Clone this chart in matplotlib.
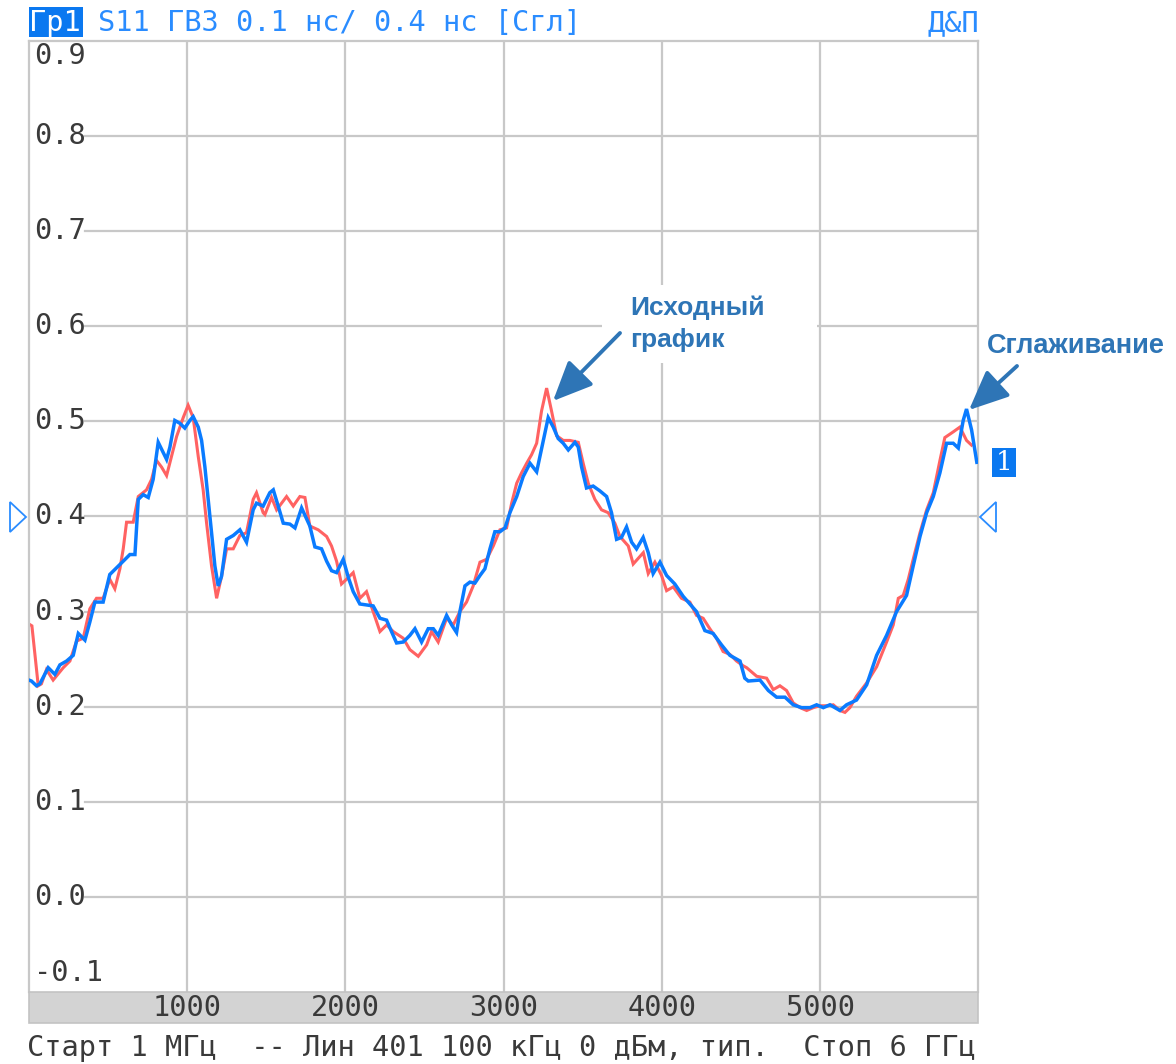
import matplotlib
matplotlib.use('Agg')
import matplotlib.pyplot as plt
import matplotlib.transforms as mtrans
from matplotlib.patches import Rectangle, Polygon, FancyArrowPatch

# ---------------- data ----------------
freq_orig = [1, 20, 60, 80, 112, 154, 218, 260, 302, 344, 386, 428, 470, 512, 544, 576, 597, 618,
             660, 692, 744, 776, 807, 839, 871, 902, 934, 976, 1007, 1039, 1071, 1102, 1123, 1155,
             1187, 1218, 1250, 1292, 1334, 1376, 1418, 1439, 1481, 1492, 1534, 1566, 1629, 1671,
             1713, 1745, 1776, 1829, 1882, 1913, 1945, 1976, 2008, 2050, 2092, 2134, 2176, 2219,
             2261, 2303, 2366, 2408, 2461, 2514, 2545, 2587, 2640, 2682, 2724, 2766, 2808, 2851,
             2893, 2935, 2977, 3019, 3051, 3083, 3114, 3146, 3177, 3209, 3240, 3272, 3303, 3335,
             3377, 3419, 3472, 3503, 3535, 3577, 3619, 3661, 3703, 3735, 3788, 3819, 3862, 3883,
             3914, 3956, 3998, 4030, 4072, 4124, 4177, 4219, 4261, 4303, 4345, 4387, 4430, 4472,
             4514, 4536, 4599, 4662, 4704, 4746, 4788, 4830, 4873, 4915, 4957, 4999, 5041, 5083,
             5125, 5157, 5188, 5230, 5294, 5357, 5420, 5462, 5494, 5525, 5557, 5588, 5631, 5673,
             5715, 5757, 5788, 5841, 5883, 5925, 5957]
s11_orig = [0.287, 0.285, 0.222, 0.224, 0.239, 0.228, 0.241, 0.248, 0.269, 0.272, 0.303, 0.314,
            0.314, 0.334, 0.324, 0.345, 0.366, 0.394, 0.394, 0.421, 0.428, 0.439, 0.459, 0.452,
            0.443, 0.463, 0.484, 0.504, 0.517, 0.504, 0.463, 0.428, 0.394, 0.348, 0.314, 0.337,
            0.366, 0.366, 0.380, 0.383, 0.418, 0.425, 0.404, 0.402, 0.420, 0.407, 0.421, 0.411,
            0.421, 0.420, 0.390, 0.386, 0.379, 0.369, 0.353, 0.329, 0.334, 0.341, 0.314, 0.321,
            0.300, 0.279, 0.286, 0.279, 0.272, 0.260, 0.253, 0.265, 0.279, 0.268, 0.293, 0.286,
            0.300, 0.310, 0.327, 0.352, 0.355, 0.369, 0.386, 0.388, 0.414, 0.435, 0.446, 0.456,
            0.465, 0.477, 0.511, 0.535, 0.511, 0.485, 0.480, 0.480, 0.478, 0.456, 0.435, 0.418,
            0.407, 0.404, 0.393, 0.379, 0.369, 0.350, 0.358, 0.362, 0.340, 0.352, 0.338, 0.322,
            0.326, 0.314, 0.310, 0.296, 0.293, 0.282, 0.272, 0.258, 0.255, 0.248, 0.243, 0.241,
            0.232, 0.230, 0.218, 0.222, 0.217, 0.204, 0.199, 0.196, 0.199, 0.201, 0.201, 0.202,
            0.196, 0.194, 0.199, 0.211, 0.225, 0.242, 0.268, 0.286, 0.314, 0.317, 0.334, 0.355,
            0.383, 0.407, 0.425, 0.459, 0.483, 0.489, 0.494, 0.480, 0.475]

freq_smooth = [1, 17, 49, 70, 123, 165, 197, 239, 281, 313, 355, 386, 418, 470, 512, 555, 597, 639,
               671, 692, 723, 755, 786, 818, 850, 871, 892, 923, 955, 986, 1018, 1039, 1071, 1092,
               1113, 1134, 1155, 1176, 1197, 1218, 1250, 1292, 1334, 1376, 1418, 1439, 1481, 1523,
               1545, 1576, 1608, 1650, 1682, 1724, 1776, 1808, 1850, 1882, 1913, 1945, 1987, 2019,
               2050, 2092, 2176, 2219, 2261, 2292, 2324, 2366, 2408, 2440, 2482, 2524, 2556, 2587,
               2640, 2672, 2703, 2724, 2756, 2787, 2819, 2851, 2882, 2914, 2945, 2977, 3009, 3040,
               3083, 3124, 3167, 3209, 3251, 3282, 3314, 3345, 3377, 3409, 3451, 3472, 3493, 3524,
               3566, 3608, 3651, 3682, 3714, 3745, 3777, 3809, 3840, 3882, 3914, 3945, 3988, 4030,
               4082, 4135, 4187, 4219, 4272, 4324, 4377, 4430, 4472, 4494, 4524, 4546, 4620, 4673,
               4725, 4778, 4830, 4883, 4936, 4978, 5020, 5062, 5125, 5167, 5230, 5294, 5357, 5420,
               5483, 5546, 5588, 5631, 5673, 5715, 5757, 5799, 5841, 5873, 5904, 5925, 5957, 5990]
s11_smooth = [0.228, 0.227, 0.222, 0.224, 0.241, 0.234, 0.244, 0.248, 0.254, 0.277, 0.270, 0.289,
              0.310, 0.310, 0.339, 0.346, 0.353, 0.360, 0.360, 0.418, 0.423, 0.420, 0.439, 0.478,
              0.467, 0.460, 0.473, 0.501, 0.498, 0.493, 0.501, 0.505, 0.494, 0.480, 0.452, 0.418,
              0.383, 0.348, 0.327, 0.337, 0.376, 0.380, 0.386, 0.373, 0.407, 0.414, 0.411, 0.425,
              0.428, 0.411, 0.393, 0.392, 0.388, 0.409, 0.390, 0.368, 0.366, 0.353, 0.343, 0.341,
              0.355, 0.336, 0.321, 0.308, 0.306, 0.293, 0.291, 0.279, 0.267, 0.268, 0.275, 0.282,
              0.268, 0.282, 0.282, 0.275, 0.296, 0.286, 0.278, 0.300, 0.327, 0.331, 0.330, 0.338,
              0.345, 0.366, 0.384, 0.384, 0.388, 0.404, 0.421, 0.442, 0.456, 0.447, 0.480, 0.504,
              0.494, 0.482, 0.477, 0.470, 0.478, 0.473, 0.452, 0.430, 0.432, 0.427, 0.421, 0.404,
              0.376, 0.378, 0.389, 0.373, 0.366, 0.378, 0.362, 0.340, 0.352, 0.338, 0.329, 0.316,
              0.306, 0.300, 0.280, 0.277, 0.265, 0.254, 0.250, 0.248, 0.230, 0.227, 0.228, 0.217,
              0.210, 0.210, 0.202, 0.199, 0.199, 0.202, 0.199, 0.202, 0.196, 0.202, 0.207, 0.223,
              0.254, 0.275, 0.300, 0.317, 0.348, 0.379, 0.404, 0.421, 0.446, 0.477, 0.477, 0.472,
              0.501, 0.513, 0.491, 0.457]

x_ticks = [1000, 2000, 3000, 4000, 5000]
x_labels = ['1000', '2000', '3000', '4000', '5000']
y_ticks = [-0.1, 0.0, 0.1, 0.2, 0.3, 0.4, 0.5, 0.6, 0.7, 0.8, 0.9]
y_labels = ['-0.1', '0.0', '0.1', '0.2', '0.3', '0.4', '0.5', '0.6', '0.7', '0.8', '0.9']
x_range = [1, 6000]

header_tag = 'Гр1'
header_text = 'S11 ГВЗ 0.1 нс/ 0.4 нс [Сгл]'
header_right = 'Д&П'
footer_text = 'Старт 1 МГц  -- Лин 401 100 кГц 0 дБм, тип.  Стоп 6 ГГц'
note_orig = 'Исходный\nграфик'
note_smooth = 'Сглаживание'
trace_id = '1'

# ---------------- style ----------------
W, H = 1176, 1064
L, R, T, B = 28.9, 978.4, 41, 992
MONO = 'DejaVu Sans Mono'
FS = 20.6
GRID = '#c8c8c8'
TXT = '#3a3a3a'
HBLUE = '#2a8cff'
MBLUE = '#0a78f0'
RED = '#ff6262'
BLUE = '#0a7bff'
ANN = '#2e75b6'


def fx(x):
    return x / W


def fy(y):
    return 1 - y / H


fig = plt.figure(figsize=(W / 100, H / 100), dpi=100)
fig.patch.set_facecolor('white')
ax = fig.add_axes([fx(L), fy(B), (R - L) / W, (B - T) / H])
ax.set_xlim(*x_range)
ax.set_ylim(y_ticks[0], y_ticks[-1])
ax.set_xticks([])
ax.set_yticks([])
for s in ['top', 'left', 'right']:
    ax.spines[s].set_color(GRID)
    ax.spines[s].set_linewidth(1.6)
ax.spines['bottom'].set_visible(False)

# grid
ax.vlines(x_ticks, y_ticks[0], y_ticks[-1], color=GRID, lw=1.6, zorder=0.5)
xmin_frac = (85 - L) / (R - L)
for yv in y_ticks[1:-1]:
    ax.axhline(yv, xmin=xmin_frac, xmax=1, color=GRID, lw=1.6, zorder=0.5)

# y labels
for yv, lab in zip(y_ticks, y_labels):
    off = 0
    if yv == y_ticks[-1]:
        off = -11
    elif yv == y_ticks[0]:
        off = 14
    tr = ax.get_yaxis_transform() + mtrans.ScaledTranslation(0, off / 72, fig.dpi_scale_trans)
    ax.text(0.005, yv, lab, transform=tr, ha='left', va='center', fontsize=FS,
            family=MONO, color=TXT, zorder=3)

# curves
ax.plot(freq_orig, s11_orig, color=RED, lw=2.2, zorder=2, solid_joinstyle='miter')
ax.plot(freq_smooth, s11_smooth, color=BLUE, lw=2.5, zorder=3, solid_joinstyle='miter')

# gray frequency bar
fig.patches.append(Rectangle((fx(L), fy(1023)), (R - L) / W, (1023 - B) / H,
                             transform=fig.transFigure, facecolor='#d3d3d3',
                             edgecolor='#c3c3c3', lw=1.2))
for xv, lab in zip(x_ticks, x_labels):
    xp = L + (xv - x_range[0]) / (x_range[1] - x_range[0]) * (R - L)
    fig.text(fx(xp), fy(1008), lab, ha='center', va='center', fontsize=FS,
             family=MONO, color=TXT)

# footer
fig.text(fx(27), fy(1056), footer_text, ha='left', va='baseline', fontsize=FS,
         family=MONO, color=TXT)

# header
fig.patches.append(Rectangle((fx(28.7), fy(37)), (83.4 - 28.7) / W, 30 / H,
                             transform=fig.transFigure, facecolor=MBLUE, edgecolor='none'))
fig.text(fx(29), fy(31), header_tag, ha='left', va='baseline', fontsize=FS,
         family=MONO, color='white')
fig.text(fx(98), fy(31), header_text, ha='left', va='baseline', fontsize=FS,
         family=MONO, color=HBLUE)
fig.text(fx(979), fy(31), header_right, ha='right', va='baseline', fontsize=FS,
         family=MONO, color=HBLUE)

# reference-level triangles
fig.patches.append(Polygon([(fx(10), fy(502)), (fx(10), fy(532)), (fx(26), fy(517))],
                           closed=True, transform=fig.transFigure, fill=False,
                           edgecolor=HBLUE, lw=1.3))
fig.patches.append(Polygon([(fx(996), fy(502)), (fx(996), fy(532)), (fx(980), fy(517))],
                           closed=True, transform=fig.transFigure, fill=False,
                           edgecolor=HBLUE, lw=1.3))

# trace marker "1"
fig.patches.append(Rectangle((fx(992), fy(477)), 24 / W, 29 / H, transform=fig.transFigure,
                             facecolor=MBLUE, edgecolor='none'))
fig.text(fx(1004), fy(462.5), trace_id, ha='center', va='center', fontsize=19,
         family='DejaVu Serif', color='white')

# white box behind annotation text
fig.patches.append(Rectangle((fx(602), fy(363)), (817 - 602) / W, (363 - 285) / H,
                             transform=fig.transFigure, facecolor='white', edgecolor='none'))

# annotations
fig.text(fx(630), fy(347), note_orig, ha='left', va='baseline', fontsize=19,
         family='Liberation Sans', weight='bold', color=ANN, linespacing=1.4)
fig.text(fx(987), fy(353), note_smooth, ha='left', va='baseline', fontsize=19.5,
         family='Liberation Sans', weight='bold', color=ANN)

for (x0, y0), (x1, y1) in [((620, 333), (553, 401)), ((1017, 366), (969, 410))]:
    arr = FancyArrowPatch((fx(x0), fy(y0)), (fx(x1), fy(y1)), transform=fig.transFigure,
                          arrowstyle='-|>,head_length=1.35,head_width=0.6', mutation_scale=18,
                          color=ANN, lw=2.8, shrinkA=0, shrinkB=0)
    fig.patches.append(arr)

fig.savefig('out.png', dpi=100, facecolor='white')
